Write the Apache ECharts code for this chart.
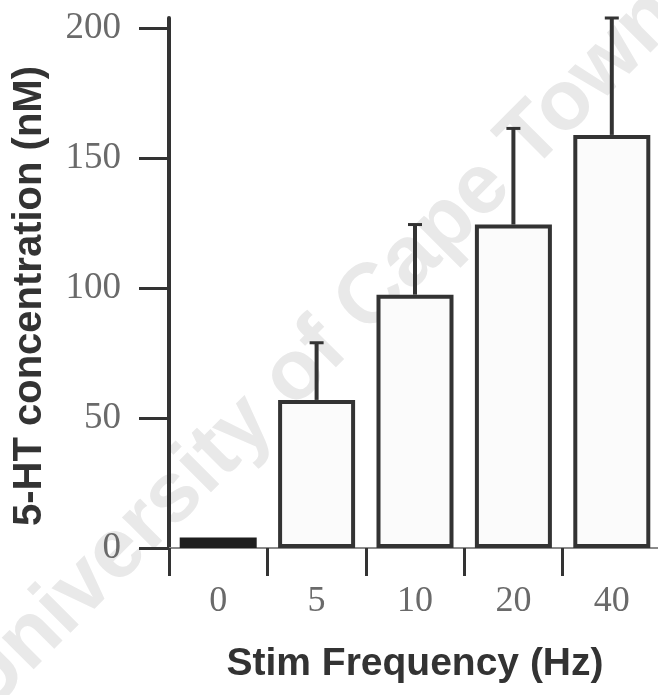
<!DOCTYPE html>
<html>
<head>
<meta charset="utf-8">
<style>
  html, body { margin: 0; padding: 0; background: #ffffff; }
  #chart { width: 658px; height: 695px; }
</style>
<script src="https://cdn.jsdelivr.net/npm/echarts@6/dist/echarts.min.js"></script>
</head>
<body>
<div id="chart"></div>
<script>
// Stimulation frequencies (Hz)
const frequencies = ['0', '5', '10', '20', '40'];
// Mean 5-HT concentration (nM) per frequency
const meanConc = [4, 57, 97.5, 124.5, 159];
// Upper error (nM) above each mean
const errUpper = [0, 22, 27, 37, 45];
// Y-axis tick values
const yTicks = [0, 50, 100, 150, 200];

const ink = '#333333';

const chart = echarts.init(document.getElementById('chart'));

chart.setOption({
  backgroundColor: '#ffffff',
  animation: false,
  grid: { left: 169, width: 492, top: 18, bottom: 147, outerBoundsMode: 'none', containLabel: false },
  graphic: [{
    // Diagonal watermark behind the plot
    type: 'text',
    x: 318,
    y: 352,
    rotation: Math.PI / 4,
    silent: true,
    z: -10,
    style: {
      text: 'University of Cape Town',
      font: 'bold 85px "Liberation Sans", Arial, sans-serif',
      fill: '#e9e9e9',
      align: 'center',
      verticalAlign: 'middle'
    }
  }],
  xAxis: {
    type: 'category',
    data: frequencies,
    boundaryGap: true,
    name: 'Stim Frequency (Hz)',
    nameLocation: 'middle',
    nameGap: 97,
    nameTextStyle: {
      fontFamily: '"Liberation Sans", Arial, sans-serif',
      fontWeight: 'bold',
      fontSize: 39,
      color: ink
    },
    axisLine: { show: true, lineStyle: { color: '#8a8a8a', width: 2 } },
    axisTick: {
      show: true,
      alignWithLabel: false,
      inside: false,
      length: 28,
      lineStyle: { color: ink, width: 3 }
    },
    axisLabel: {
      margin: 36,
      fontFamily: '"Liberation Serif", "Times New Roman", serif',
      fontSize: 36,
      color: '#6a6a6a'
    },
    splitLine: { show: false }
  },
  yAxis: {
    type: 'value',
    min: 0,
    max: 204,
    name: '5-HT concentration (nM)',
    nameLocation: 'middle',
    nameRotate: 90,
    nameGap: 119,
    nameTextStyle: {
      fontFamily: '"Liberation Sans", Arial, sans-serif',
      fontWeight: 'bold',
      fontSize: 40,
      color: ink,
      padding: [0, 26, 0, 0]
    },
    axisLine: { show: true, lineStyle: { color: ink, width: 4 } },
    axisTick: {
      show: true,
      length: 30,
      customValues: yTicks,
      lineStyle: { color: ink, width: 3 }
    },
    axisLabel: {
      margin: 48,
      customValues: yTicks,
      fontFamily: '"Liberation Serif", "Times New Roman", serif',
      fontSize: 37,
      color: '#6a6a6a'
    },
    splitLine: { show: false }
  },
  series: [
    {
      type: 'bar',
      barWidth: 77,
      data: meanConc.map((v, i) => ({
        value: v,
        itemStyle: i === 0
          ? { color: '#1e1e1e', borderColor: '#1e1e1e', borderWidth: 4 }
          : { color: '#fbfbfb', borderColor: ink, borderWidth: 4 }
      })),
      z: 2
    },
    {
      // Upward error bars drawn from each mean
      type: 'custom',
      data: meanConc.map((v, i) => [i, v, v + errUpper[i]]),
      encode: { x: 0, y: [1, 2] },
      z: 3,
      renderItem: function (params, api) {
        const idx = api.value(0);
        const lo = api.coord([idx, api.value(1)]);
        const hi = api.coord([idx, api.value(2)]);
        if (api.value(2) - api.value(1) <= 0) return null;
        return {
          type: 'group',
          children: [
            {
              type: 'line',
              shape: { x1: lo[0], y1: lo[1], x2: hi[0], y2: hi[1] },
              style: { stroke: ink, lineWidth: 4 }
            },
            {
              type: 'line',
              shape: { x1: hi[0] - 7, y1: hi[1], x2: hi[0] + 7, y2: hi[1] },
              style: { stroke: ink, lineWidth: 3 }
            }
          ]
        };
      }
    }
  ]
});
</script>
</body>
</html>
